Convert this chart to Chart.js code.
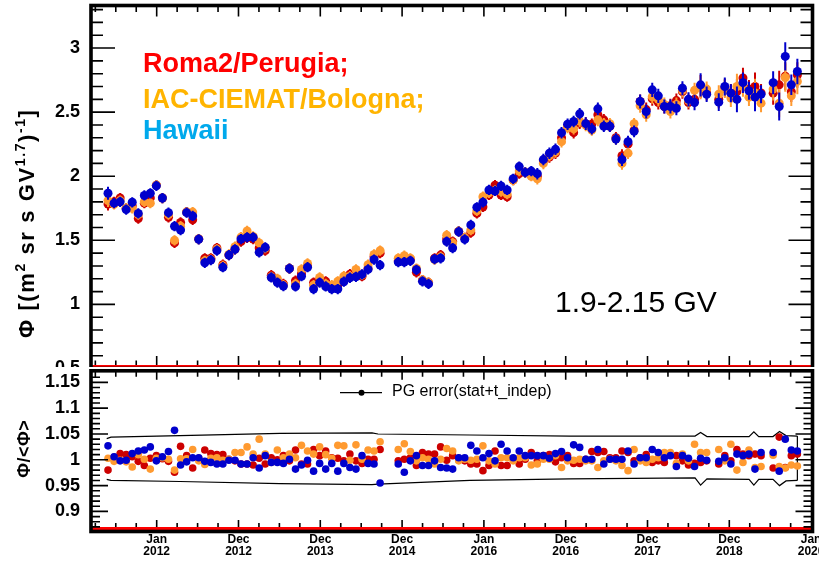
<!DOCTYPE html>
<html>
<head>
<meta charset="utf-8">
<script src="https://cdn.jsdelivr.net/npm/chart.js@4.4.1/dist/chart.umd.min.js"></script>
<style>
  html, body { margin: 0; padding: 0; background: #fff; }
  #wrap { position: relative; width: 819px; height: 561px; overflow: hidden; background: #fff; }
  #fluxCanvas { position: absolute; left: 0; top: 0; }
  #ratioCanvas { position: absolute; left: 0; top: 367px; background: #fff; z-index: 2; }
</style>
</head>
<body>
<div id="wrap">
  <canvas id="fluxCanvas" width="819" height="375"></canvas>
  <canvas id="ratioCanvas" width="819" height="194"></canvas>
</div>
<script>
// ---- groups ----
const groupLabels = ['Roma2/Perugia;', 'IAC-CIEMAT/Bologna;', 'Hawaii'];
const rigidityLabel = '1.9-2.15 GV';
const bandLabel = 'PG error(stat+t_indep)';

// ---- Bartels rotation mid-times (decimal years) ----
const bartelsMid = [
  2011.405, 2011.479, 2011.553, 2011.627, 2011.701, 2011.775, 2011.849, 2011.922, 2011.996, 2012.070,
  2012.144, 2012.218, 2012.292, 2012.366, 2012.440, 2012.514, 2012.588, 2012.662, 2012.736, 2012.809,
  2012.883, 2012.957, 2013.031, 2013.105, 2013.179, 2013.253, 2013.327, 2013.401, 2013.475, 2013.549,
  2013.623, 2013.697, 2013.770, 2013.844, 2013.918, 2013.992, 2014.066, 2014.140, 2014.214, 2014.288,
  2014.362, 2014.436, 2014.510, 2014.584, 2014.657, 2014.731,
  2014.953, 2015.027, 2015.101, 2015.175, 2015.249, 2015.323, 2015.397, 2015.471,
  2015.545, 2015.618, 2015.692, 2015.766, 2015.840, 2015.914, 2015.988, 2016.062, 2016.136, 2016.210,
  2016.284, 2016.358, 2016.432, 2016.505, 2016.579, 2016.653, 2016.727, 2016.801, 2016.875, 2016.949,
  2017.023, 2017.097, 2017.171, 2017.245, 2017.319, 2017.393, 2017.466, 2017.540, 2017.614, 2017.688,
  2017.762, 2017.836, 2017.910, 2017.984, 2018.058, 2018.132, 2018.206, 2018.280, 2018.353, 2018.427,
  2018.501, 2018.575, 2018.649, 2018.723,
  2018.871, 2018.945, 2019.019, 2019.093, 2019.167, 2019.240, 2019.314, 2019.388,
  2019.536, 2019.610, 2019.684, 2019.758, 2019.832
];

// ---- flux per group [(m^2 sr s GV^1.7)^-1] ----
const fluxRoma = [
  1.783, 1.80, 1.83, 1.75, 1.77, 1.67, 1.79, 1.83, 1.93, 1.83,
  1.68, 1.48, 1.64, 1.72, 1.66, 1.51, 1.36, 1.36, 1.44, 1.31,
  1.385, 1.43, 1.49, 1.52, 1.51, 1.44, 1.42, 1.228, 1.18, 1.16,
  1.28, 1.185, 1.24, 1.30, 1.17, 1.19, 1.18, 1.14, 1.15, 1.19,
  1.236, 1.23, 1.22, 1.28, 1.37, 1.40,
  1.34, 1.36, 1.35, 1.25, 1.19, 1.17, 1.36, 1.385,
  1.51, 1.49, 1.57, 1.52, 1.56, 1.71, 1.76, 1.854, 1.93, 1.854,
  1.84, 1.97, 2.02, 2.03, 2.01, 2.00, 2.12, 2.15, 2.18, 2.30,
  2.39, 2.34, 2.414, 2.41, 2.406, 2.48, 2.44, 2.39, 2.30, 2.16,
  2.25, 2.36, 2.583, 2.52, 2.604, 2.575, 2.544, 2.55, 2.59, 2.66,
  2.575, 2.60, 2.70, 2.65,
  2.60, 2.69, 2.65, 2.66, 2.766, 2.68, 2.70, 2.65,
  2.648, 2.713, 2.78, 2.66, 2.79
];
const fluxIac = [
  1.81, 1.78, 1.81, 1.75, 1.75, 1.70, 1.80, 1.79, 1.93, 1.83,
  1.70, 1.50, 1.61, 1.72, 1.72, 1.51, 1.34, 1.35, 1.43, 1.30,
  1.39, 1.45, 1.525, 1.573, 1.53, 1.48, 1.44, 1.215, 1.20, 1.15,
  1.28, 1.16, 1.273, 1.32, 1.15, 1.21, 1.16, 1.15, 1.18, 1.22,
  1.22, 1.273, 1.23, 1.31, 1.39, 1.42,
  1.36, 1.38, 1.36, 1.28, 1.19, 1.17, 1.35, 1.37,
  1.54, 1.48, 1.57, 1.52, 1.58, 1.73, 1.84, 1.87, 1.89, 1.88,
  1.86, 1.97, 2.04, 2.03, 2.00, 1.98, 2.10, 2.16, 2.19, 2.27,
  2.38, 2.37, 2.43, 2.40, 2.36, 2.44, 2.41, 2.41, 2.29, 2.10,
  2.18, 2.41, 2.55, 2.48, 2.62, 2.60, 2.56, 2.505, 2.56, 2.67,
  2.59, 2.67, 2.69, 2.68,
  2.64, 2.68, 2.61, 2.70, 2.70, 2.617, 2.65, 2.57,
  2.68, 2.57, 2.77, 2.627, 2.74
];
const fluxHawaii = [
  1.867, 1.79, 1.80, 1.74, 1.797, 1.71, 1.85, 1.867, 1.925, 1.83,
  1.716, 1.61, 1.58, 1.716, 1.69, 1.508, 1.325, 1.346, 1.42, 1.29,
  1.385, 1.43, 1.51, 1.523, 1.523, 1.406, 1.445, 1.21, 1.17, 1.143,
  1.28, 1.14, 1.22, 1.29, 1.12, 1.17, 1.14, 1.12, 1.12, 1.177,
  1.208, 1.215, 1.234, 1.273, 1.35, 1.307,
  1.33, 1.33, 1.34, 1.27, 1.18, 1.16, 1.354, 1.36,
  1.49, 1.44, 1.567, 1.507, 1.62, 1.758, 1.797, 1.893, 1.885, 1.924,
  1.893, 1.98, 2.075, 2.03, 2.04, 2.02, 2.13, 2.18, 2.21, 2.34,
  2.406, 2.427, 2.487, 2.41, 2.37, 2.526, 2.39, 2.39, 2.29, 2.13,
  2.27, 2.35, 2.583, 2.505, 2.674, 2.627, 2.544, 2.544, 2.53, 2.687,
  2.60, 2.575, 2.713, 2.64,
  2.578, 2.70, 2.648, 2.60, 2.73, 2.667, 2.617, 2.64,
  2.73, 2.544, 2.935, 2.713, 2.817
];
// flux uncertainty per rotation
const fluxErr = [
  0.05, 0.04, 0.04, 0.04, 0.04, 0.04, 0.04, 0.04, 0.04, 0.04,
  0.04, 0.04, 0.04, 0.04, 0.04, 0.04, 0.04, 0.04, 0.04, 0.04,
  0.04, 0.04, 0.04, 0.04, 0.04, 0.04, 0.04, 0.04, 0.04, 0.04,
  0.04, 0.04, 0.04, 0.04, 0.04, 0.04, 0.04, 0.04, 0.04, 0.04,
  0.04, 0.04, 0.04, 0.04, 0.04, 0.04,
  0.04, 0.04, 0.04, 0.04, 0.04, 0.04, 0.04, 0.04,
  0.04, 0.04, 0.04, 0.04, 0.04, 0.04, 0.04, 0.04, 0.04, 0.04,
  0.04, 0.04, 0.04, 0.04, 0.04, 0.045, 0.045, 0.045, 0.045, 0.045,
  0.045, 0.045, 0.045, 0.05, 0.045, 0.05, 0.045, 0.045, 0.045, 0.05,
  0.045, 0.045, 0.055, 0.055, 0.055, 0.055, 0.055, 0.055, 0.055, 0.055,
  0.055, 0.06, 0.09, 0.06,
  0.07, 0.07, 0.07, 0.10, 0.08, 0.07, 0.11, 0.07,
  0.09, 0.11, 0.11, 0.08, 0.10
];

// ---- ratio to the mean flux ----
const ratioRoma = [
  0.980, 1.005, 1.012, 1.010, 1.006, 0.997, 0.989, 1.003, 1.008, 1.002,
  0.997, 0.976, 1.026, 1.008, 0.984, 1.003, 1.019, 1.012, 1.010, 1.010,
  1.001, 0.998, 0.992, 0.992, 0.990, 1.003, 0.992, 1.004, 1.000, 1.008,
  0.998, 1.019, 0.992, 0.992, 1.020, 1.008, 1.017, 1.004, 1.003, 0.998,
  1.011, 0.998, 0.993, 1.001, 1.001, 1.020,
  0.998, 1.001, 1.004, 0.989, 1.014, 1.011, 1.011, 1.025,
  0.999, 1.008, 1.003, 0.998, 0.992, 0.992, 0.979, 0.989, 1.017, 0.989,
  0.989, 1.001, 0.992, 1.001, 1.014, 0.998, 1.008, 1.010, 0.996, 1.004,
  1.008, 0.993, 0.993, 1.001, 1.016, 1.014, 1.016, 1.004, 1.004, 1.017,
  1.014, 0.998, 1.004, 1.010, 0.995, 0.998, 0.995, 1.011, 1.008, 0.998,
  0.990, 0.993, 0.995, 0.998,
  0.992, 1.008, 0.998, 1.020, 1.011, 1.008, 1.011, 1.008,
  0.984, 1.044, 0.985, 1.008, 1.011
];
const ratioIac = [
  1.003, 0.997, 0.999, 0.996, 0.986, 1.010, 1.001, 0.982, 1.003, 1.004,
  1.001, 0.980, 1.002, 1.002, 1.020, 0.998, 0.991, 1.003, 1.004, 0.999,
  1.001, 1.014, 1.014, 1.025, 1.011, 1.040, 1.011, 0.995, 1.019, 1.004,
  1.011, 1.004, 1.028, 1.017, 1.011, 1.025, 1.010, 1.003, 1.028, 1.027,
  0.999, 1.029, 1.001, 1.019, 1.017, 1.035,
  1.020, 1.031, 1.016, 0.998, 1.004, 1.001, 0.992, 1.001,
  1.022, 1.017, 0.998, 1.001, 0.999, 1.001, 1.027, 0.998, 0.992, 1.004,
  1.004, 0.998, 1.004, 1.004, 0.990, 0.992, 1.001, 1.001, 1.008, 0.985,
  0.998, 0.999, 1.001, 0.998, 0.998, 0.985, 0.998, 1.001, 0.998, 0.989,
  0.979, 1.020, 0.998, 0.995, 1.001, 1.004, 1.014, 1.014, 0.993, 1.011,
  0.998, 1.030, 1.014, 1.014,
  1.020, 0.998, 1.030, 0.980, 0.995, 1.019, 0.985, 0.987,
  1.009, 0.987, 0.984, 0.990, 0.988
];
const ratioHawaii = [
  1.027, 1.006, 0.998, 0.999, 1.012, 1.017, 1.019, 1.025, 0.998, 1.006,
  1.016, 1.057, 0.990, 0.996, 1.004, 1.004, 0.997, 0.995, 0.992, 0.992,
  0.999, 0.999, 0.992, 0.992, 1.004, 0.984, 1.008, 0.995, 0.995, 0.993,
  1.001, 0.982, 0.990, 0.999, 0.978, 0.993, 0.982, 0.993, 0.978, 0.993,
  0.985, 0.982, 1.008, 0.993, 0.992, 0.955,
  0.992, 0.976, 0.998, 1.008, 0.989, 0.989, 0.998, 0.985,
  0.984, 0.982, 1.004, 1.004, 1.028, 1.017, 1.004, 1.012, 0.998, 1.030,
  1.017, 1.004, 1.017, 1.008, 1.008, 1.008, 1.008, 1.003, 1.012, 1.016,
  1.004, 1.029, 1.024, 1.001, 1.001, 1.020, 0.992, 1.001, 1.001, 1.001,
  1.017, 0.992, 1.004, 1.004, 1.020, 1.014, 1.004, 1.008, 0.987, 1.008,
  1.003, 0.987, 1.003, 0.999,
  0.997, 1.004, 0.992, 1.011, 1.008, 1.011, 0.982, 1.014,
  1.014, 0.978, 1.040, 1.019, 1.017
];

// ---- relative uncertainty band (vertices) ----
const bandTime  = [2011.389, 2011.441, 2012.285, 2013.507, 2014.632, 2014.705, 2015.830, 2017.053, 2018.581, 2018.649, 2018.727, 2019.241, 2019.300, 2019.360, 2019.534, 2019.614, 2019.693, 2019.832];
const bandUpper = [1.041, 1.044, 1.047, 1.051, 1.052, 1.050, 1.048, 1.046, 1.046, 1.053, 1.045, 1.045, 1.054, 1.045, 1.045, 1.055, 1.047, 1.046];
const bandLower = [0.962, 0.960, 0.958, 0.954, 0.952, 0.953, 0.960, 0.963, 0.965, 0.951, 0.963, 0.962, 0.951, 0.962, 0.962, 0.950, 0.959, 0.960];

// ---- axes ----
const timeMin = 2011.197, timeMax = 2020.017;
const timeTicks = [2012, 2013, 2014, 2015, 2016, 2017, 2018, 2019, 2020];
const timeTickLabels = [['Jan','2012'],['Dec','2012'],['Dec','2013'],['Dec','2014'],['Jan','2016'],['Dec','2016'],['Dec','2017'],['Dec','2018'],['Jan','2020']];
const fluxTicks = [0.5, 1, 1.5, 2, 2.5, 3];
const fluxTickLabels = ['0.5', '1', '1.5', '2', '2.5', '3'];
const ratioTicks = [0.9, 0.95, 1, 1.05, 1.1, 1.15];
const ratioTickLabels = ['0.9', '0.95', '1', '1.05', '1.1', '1.15'];

const legendColors = ['#ff0000', '#ffb400', '#00a9ec'];
const markerColors = ['#cc0000', '#ff9a30', '#0000cc'];

const FONT = '"Liberation Sans", Arial, Helvetica, sans-serif';

function points(values) {
  return bartelsMid.map((t, i) => ({ x: t, y: values[i] }));
}

// vertical error bars drawn right before each group's markers
const errorBarPlugin = {
  id: 'errorBars',
  beforeDatasetDraw(chart, args) {
    const ds = chart.data.datasets[args.index];
    if (!ds.errors) return;
    const { ctx, chartArea: a } = chart;
    const xs = chart.scales.x, ys = chart.scales.y;
    ctx.save();
    ctx.beginPath();
    ctx.rect(a.left, a.top, a.right - a.left, a.bottom - a.top);
    ctx.clip();
    ctx.strokeStyle = ds.backgroundColor;
    ctx.lineWidth = 2;
    ctx.beginPath();
    ds.data.forEach((p, i) => {
      const px = xs.getPixelForValue(p.x);
      ctx.moveTo(px, ys.getPixelForValue(p.y - ds.errors[i]));
      ctx.lineTo(px, ys.getPixelForValue(p.y + ds.errors[i]));
    });
    ctx.stroke();
    ctx.restore();
  }
};

// frame, inward ticks and the red base line of each pad
function padFrame(cfg) {
  return {
    id: 'padFrame',
    afterDraw(chart) {
      const { ctx, chartArea: a } = chart;
      const xs = chart.scales.x, ys = chart.scales.y;
      ctx.save();
      ctx.fillStyle = '#ff0000';
      ctx.fillRect(a.left, a.bottom - cfg.redTop, a.right - a.left, cfg.redTop - cfg.redBottom);
      ctx.strokeStyle = '#000';
      ctx.lineWidth = 1.6;
      ctx.beginPath();
      // time ticks, quarter-year minor steps
      for (let q = Math.ceil(timeMin * 4); q <= Math.floor(timeMax * 4); q++) {
        const px = xs.getPixelForValue(q / 4);
        if (px < a.left + 3 || px > a.right - 3) continue;
        const major = q % 4 === 0;
        const len = major ? cfg.xMajor : cfg.xMinor;
        ctx.moveTo(px, a.top); ctx.lineTo(px, a.top + 2 + len);
        const yb = a.bottom - cfg.redTop;
        ctx.moveTo(px, yb); ctx.lineTo(px, yb - len);
      }
      // value ticks
      for (let i = Math.ceil(ys.min / cfg.yStep - 1e-6); i <= Math.floor(ys.max / cfg.yStep + 1e-6); i++) {
        const py = ys.getPixelForValue(i * cfg.yStep);
        if (py < a.top + 3 || py > a.bottom - 3) continue;
        const major = i % 5 === 0;
        const len = major ? cfg.yMajor : cfg.yMinor;
        ctx.moveTo(a.left, py); ctx.lineTo(a.left + 2 + len, py);
        ctx.moveTo(a.right, py); ctx.lineTo(a.right - 2 - len, py);
      }
      ctx.stroke();
      ctx.lineWidth = 3.6;
      ctx.strokeRect(a.left, a.top, a.right - a.left, a.bottom - a.top);
      ctx.restore();
    }
  };
}

// rotated axis title made of normal and superscript pieces, drawn glyph by glyph
function drawRotatedTitle(ctx, parts, cx, cy, size, supSize, supRise, spacing) {
  ctx.save();
  ctx.translate(cx, cy);
  ctx.rotate(-Math.PI / 2);
  ctx.fillStyle = '#000';
  ctx.textBaseline = 'alphabetic';
  ctx.textAlign = 'left';
  const glyphs = [];
  parts.forEach(p => {
    for (const ch of p.t) glyphs.push({ ch: ch, sup: !!p.sup });
  });
  let total = 0;
  glyphs.forEach((g, i) => {
    ctx.font = 'bold ' + (g.sup ? supSize : size) + 'px ' + FONT;
    g.w = ctx.measureText(g.ch).width;
    total += g.w + (i < glyphs.length - 1 ? spacing : 0);
  });
  let x = -total / 2;
  glyphs.forEach(g => {
    ctx.font = 'bold ' + (g.sup ? supSize : size) + 'px ' + FONT;
    ctx.fillText(g.ch, x, g.sup ? -supRise : 0);
    x += g.w + spacing;
  });
  ctx.restore();
}

const fluxLabels = {
  id: 'fluxLabels',
  afterDraw(chart) {
    const ctx = chart.ctx;
    ctx.save();
    ctx.textAlign = 'left';
    ctx.textBaseline = 'alphabetic';
    ctx.font = 'bold 27px ' + FONT;
    const baselines = [71.5, 107.5, 138.5];
    groupLabels.forEach((g, i) => {
      ctx.fillStyle = legendColors[i];
      ctx.fillText(g, 143, baselines[i]);
    });
    ctx.fillStyle = '#000';
    ctx.font = '30px ' + FONT;
    ctx.fillText(rigidityLabel, 555, 311.5);
    ctx.restore();
    drawRotatedTitle(ctx, [
      { t: '\u03A6 [(m' }, { t: '2', sup: true }, { t: ' sr s GV' }, { t: '1.7', sup: true },
      { t: ')' }, { t: '-1', sup: true }, { t: ']' }
    ], 33.5, 224, 22, 14, 8.5, 1.6);
  }
};

const ratioLabels = {
  id: 'ratioLabels',
  afterDraw(chart) {
    const ctx = chart.ctx;
    const y0 = 25.7;
    ctx.save();
    ctx.strokeStyle = '#000';
    ctx.lineWidth = 1.2;
    ctx.beginPath();
    ctx.moveTo(340, y0); ctx.lineTo(382, y0);
    ctx.stroke();
    ctx.fillStyle = '#000';
    ctx.beginPath();
    ctx.arc(361.5, y0, 3, 0, Math.PI * 2);
    ctx.fill();
    ctx.font = '16px ' + FONT;
    ctx.textBaseline = 'alphabetic';
    ctx.fillText(bandLabel, 392, 29);
    ctx.restore();
    drawRotatedTitle(ctx, [{ t: '\u03A6/<\u03A6>' }], 29.5, 82, 18, 12, 6, 0.5);
  }
};

function yAxis(min, max, tickVals, tickLabels, pad) {
  return {
    type: 'linear', min: min, max: max,
    afterBuildTicks(s) { s.ticks = tickVals.map(v => ({ value: v })); },
    afterFit(s) { s.width = 91; s.paddingTop = 0; s.paddingBottom = 0; },
    grid: { display: false, drawTicks: false },
    border: { display: false },
    ticks: {
      autoSkip: false, padding: pad, color: '#000',
      font: { family: FONT, size: 18, weight: 'bold' },
      callback: (v, i) => tickLabels[i]
    }
  };
}

function groupSets(values, radius, withErr) {
  const order = [3, 2, 1];
  return values.map((vals, g) => {
    const ds = {
      label: groupLabels[g],
      data: points(vals),
      backgroundColor: markerColors[g],
      borderWidth: 0,
      pointRadius: radius,
      pointHoverRadius: radius,
      showLine: false,
      order: order[g]
    };
    if (withErr) ds.errors = fluxErr;
    return ds;
  });
}

Chart.defaults.font.family = FONT;

new Chart(document.getElementById('fluxCanvas'), {
  type: 'scatter',
  data: { datasets: groupSets([fluxRoma, fluxIac, fluxHawaii], 4.5, true) },
  options: {
    responsive: false,
    animation: false,
    events: [],
    layout: { padding: { left: 0, right: 6.5, top: 5.5, bottom: 6.5 } },
    plugins: { legend: { display: false }, tooltip: { enabled: false } },
    scales: {
      x: { type: 'linear', min: timeMin, max: timeMax, display: false },
      y: yAxis(0.5, 3.332, fluxTicks, fluxTickLabels, 11)
    }
  },
  plugins: [errorBarPlugin, padFrame({ redTop: 3.5, redBottom: 1.5, xMajor: 9, xMinor: 4.5, yMajor: 22, yMinor: 10, yStep: 0.1 }), fluxLabels]
});

const bandSets = [
  { data: bandTime.map((t, i) => ({ x: t, y: bandUpper[i] })) },
  { data: bandTime.map((t, i) => ({ x: t, y: bandLower[i] })) },
  { data: [{ x: bandTime[bandTime.length - 1], y: bandLower[bandLower.length - 1] },
           { x: bandTime[bandTime.length - 1], y: bandUpper[bandUpper.length - 1] }] }
].map(d => Object.assign(d, {
  label: bandLabel, showLine: true, borderColor: '#000', borderWidth: 1.2,
  pointRadius: 0, tension: 0, fill: false, order: 5
}));

new Chart(document.getElementById('ratioCanvas'), {
  type: 'scatter',
  data: { datasets: groupSets([ratioRoma, ratioIac, ratioHawaii], 3.8, false).concat(bandSets) },
  options: {
    responsive: false,
    animation: false,
    events: [],
    layout: { padding: { left: 0, right: 6.5, top: 2, bottom: 0 } },
    plugins: { legend: { display: false }, tooltip: { enabled: false } },
    scales: {
      x: {
        type: 'linear', min: timeMin, max: timeMax, position: 'bottom',
        afterBuildTicks(s) { s.ticks = timeTicks.map(v => ({ value: v })); },
        afterFit(s) { s.height = 29.5; s.paddingLeft = 0; s.paddingRight = 0; },
        grid: { display: false, drawTicks: false },
        border: { display: false },
        ticks: {
          autoSkip: false, maxRotation: 0, minRotation: 0, padding: 2.5, color: '#000',
          font: { family: FONT, size: 12, weight: 'bold', lineHeight: 1 },
          callback: (v, i) => timeTickLabels[i]
        }
      },
      y: yAxis(0.8611, 1.1724, ratioTicks, ratioTickLabels, 11)
    }
  },
  plugins: [padFrame({ redTop: 4.5, redBottom: 1.5, xMajor: 7, xMinor: 4, yMajor: 15, yMinor: 7, yStep: 0.01 }), ratioLabels]
});
</script>
</body>
</html>
